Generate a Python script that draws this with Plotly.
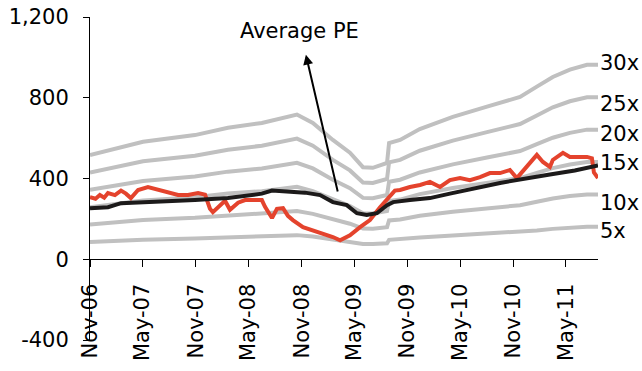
import plotly.graph_objects as go

# Trailing earnings per share used for the PE bands
eps_dates = ["2006-11-01", "2007-05-03", "2007-10-29", "2008-02-20", "2008-06-16",
             "2008-10-15", "2008-12-09", "2009-02-16", "2009-04-16", "2009-05-31",
             "2009-07-04", "2009-08-22", "2009-08-29", "2009-10-06", "2009-12-13",
             "2010-04-06", "2010-08-02", "2010-11-24", "2011-01-21", "2011-03-17",
             "2011-05-15", "2011-07-13", "2011-08-20"]
eps = [17.2, 19.4, 20.5, 21.7, 22.5,
       23.9, 22.5, 19.7, 17.6, 15.2,
       15.1, 15.9, 19.2, 19.7, 21.5,
       23.5, 25.2, 26.8, 28.5, 30.1,
       31.3, 32.1, 32.1]

multiples = [5, 10, 15, 20, 25, 30]
band_labels = ["5x", "10x", "15x", "20x", "25x", "30x"]
band_label_levels = [139, 278, 477, 621, 770, 974]

# Index level
price_dates = ["2006-11-01", "2006-11-20", "2006-12-05", "2006-12-20", "2007-01-02",
               "2007-01-26", "2007-02-16", "2007-03-05", "2007-03-22", "2007-04-16",
               "2007-05-20", "2007-06-24", "2007-07-28", "2007-08-15", "2007-09-01",
               "2007-10-05", "2007-11-09", "2007-12-03", "2007-12-20", "2007-12-30",
               "2008-01-17", "2008-02-10", "2008-02-27", "2008-03-26", "2008-04-19",
               "2008-05-23", "2008-06-16", "2008-06-27", "2008-07-21", "2008-08-07",
               "2008-08-28", "2008-09-14", "2008-10-01", "2008-11-05", "2008-12-09",
               "2009-01-03", "2009-01-27", "2009-02-16", "2009-03-13", "2009-03-30",
               "2009-04-16", "2009-05-21", "2009-06-24", "2009-07-29", "2009-09-01",
               "2009-09-18", "2009-10-06", "2009-11-09", "2009-12-14", "2010-01-17",
               "2010-02-21", "2010-03-27", "2010-05-01", "2010-06-04", "2010-07-09",
               "2010-08-12", "2010-09-16", "2010-10-20", "2010-11-13", "2010-12-18",
               "2011-01-21", "2011-02-11", "2011-03-07", "2011-03-17", "2011-04-21",
               "2011-05-15", "2011-06-19", "2011-07-13", "2011-07-30", "2011-08-06",
               "2011-08-20"]
price = [308, 300, 318, 305, 328,
         318, 340, 325, 303, 343,
         358, 343, 328, 322, 318,
         318, 328, 320, 250, 233,
         258, 290, 245, 280, 293,
         293, 293, 260, 204, 250,
         253, 215, 194, 159, 144,
         130, 119, 110, 94, 105,
         119, 159, 194, 258, 308,
         340, 343, 358, 368, 383,
         358, 392, 402, 392, 407,
         427, 427, 442, 402, 457,
         517, 482, 457, 492, 527,
         507, 505, 507, 500, 430,
         402]

# Index level implied by the average PE
avg_dates = ["2006-11-01", "2007-01-02", "2007-02-16", "2007-06-06", "2007-10-05",
             "2007-10-29", "2008-02-20", "2008-06-16", "2008-07-21", "2008-10-08",
             "2008-11-12", "2009-01-03", "2009-02-16", "2009-04-05", "2009-05-10",
             "2009-06-13", "2009-07-18", "2009-08-22", "2009-09-12", "2009-11-09",
             "2010-01-17", "2010-03-27", "2010-05-01", "2010-09-16", "2011-03-07",
             "2011-06-01", "2011-08-20"]
avg_pe_level = [253, 258, 278, 283, 288,
                293, 303, 325, 340, 333,
                330, 318, 283, 268, 228,
                219, 228, 268, 283, 293,
                303, 325, 335, 378, 420,
                440, 465]

y_ticks = [-400, 0, 400, 800, 1200]
y_tick_text = ["-400", "0", "400", "800", "1,200"]

GRAY = "#C0C0C0"
RED = "#E4432D"
BLACK = "#1C1A1A"
FONT = "'DejaVu Sans', sans-serif"

fig = go.Figure()

for m in multiples:
    fig.add_trace(go.Scatter(
        x=eps_dates, y=[m * e for e in eps], mode="lines",
        line=dict(color=GRAY, width=4), hoverinfo="skip", showlegend=False))

fig.add_trace(go.Scatter(
    x=price_dates, y=price, mode="lines",
    line=dict(color=RED, width=4), showlegend=False))

fig.add_trace(go.Scatter(
    x=avg_dates, y=avg_pe_level, mode="lines",
    line=dict(color=BLACK, width=4), showlegend=False))

# Multiple labels at the right end of each band
for lab, lvl in zip(band_labels, band_label_levels):
    fig.add_annotation(x=eps_dates[-1], y=lvl, text=lab, showarrow=False,
                       xanchor="left", yanchor="middle", xshift=0,
                       font=dict(family=FONT, size=21, color="black"))

# Average PE callout
fig.add_annotation(x="2008-10-25", y=1133, text="Average PE", showarrow=False,
                   xanchor="center", yanchor="middle",
                   font=dict(family=FONT, size=21, color="black"))
fig.add_annotation(x="2008-11-15", y=1013, ax="2009-03-06", ay=328,
                   axref="x", ayref="y", text="", showarrow=True,
                   arrowhead=2, arrowsize=1, arrowwidth=2, arrowcolor="black")

fig.update_layout(
    width=642, height=371,
    margin=dict(l=90, r=44, t=17, b=31),
    paper_bgcolor="white", plot_bgcolor="white",
    font=dict(family=FONT, color="black"),
    xaxis=dict(
        type="date", range=["2006-11-01", "2011-08-20"],
        tick0="2006-11-01", dtick="M6", tickformat="%b-%y",
        tickangle=-90, ticks="outside", ticklen=7, tickcolor="black",
        ticklabelstandoff=8,
        showline=True, linecolor="black", linewidth=1,
        showgrid=False, zeroline=False, automargin=False,
        anchor="free", position=0.25,
        tickfont=dict(family=FONT, size=21, color="black")),
    yaxis=dict(
        range=[-400, 1200], tickvals=y_ticks, ticktext=y_tick_text,
        ticks="outside", ticklen=6, tickcolor="black",
        ticklabelstandoff=10,
        showline=True, linecolor="black", linewidth=1,
        showgrid=False, zeroline=False, automargin=False,
        tickfont=dict(family=FONT, size=21, color="black")),
)

fig.write_html("out.html")
